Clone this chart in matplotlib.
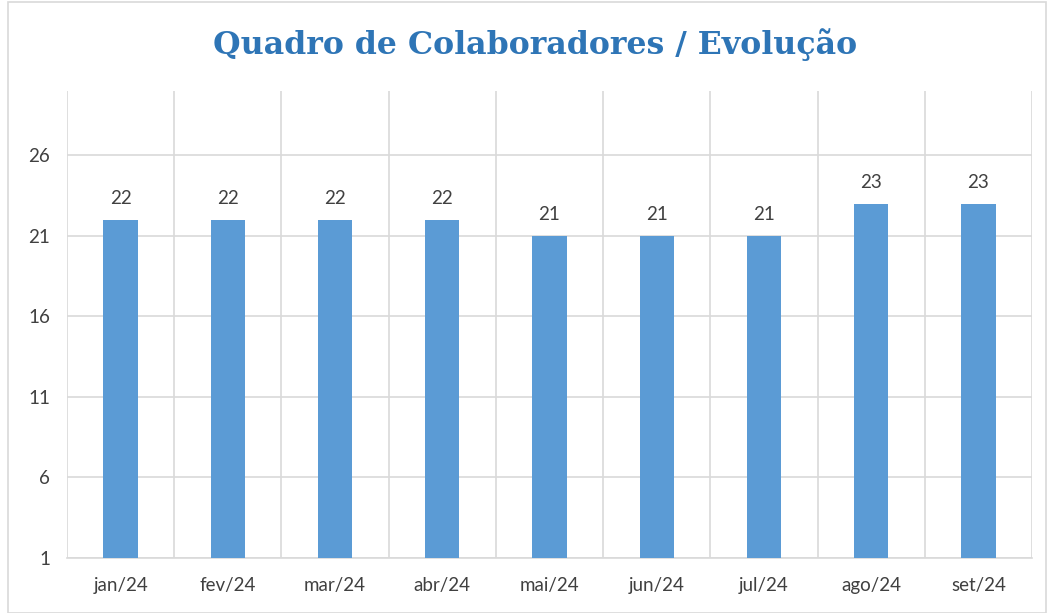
import matplotlib
matplotlib.use("Agg")
import matplotlib.pyplot as plt
from matplotlib.patches import Rectangle

# Data
months = ["jan/24", "fev/24", "mar/24", "abr/24", "mai/24", "jun/24", "jul/24", "ago/24", "set/24"]
colaboradores = [22, 22, 22, 22, 21, 21, 21, 23, 23]
yticks = [1, 6, 11, 16, 21, 26]

plt.rcParams['font.family'] = ['Lato', 'DejaVu Sans']

fig = plt.figure(figsize=(10.52, 6.13), dpi=100)
ax = fig.add_axes([67 / 1052, 1 - 558 / 613, (1032 - 67) / 1052, (558 - 91) / 613])

x = range(len(months))
bars = ax.bar(x, [v - 1 for v in colaboradores], bottom=1, width=0.32, color="#5B9BD5", zorder=3)

for xi, v in zip(x, colaboradores):
    ax.text(xi, v + 0.8, str(v), ha="center", va="bottom", fontsize=13.5, color="#404040")

ax.set_xlim(-0.5, len(months) - 0.5)
ax.set_ylim(1, 30)
ax.set_yticks(yticks)
ax.set_xticks(list(x))
ax.set_xticklabels(months)
ax.tick_params(axis="both", length=0, labelsize=13.5, colors="#404040")
ax.tick_params(axis="x", pad=14)
ax.tick_params(axis="y", pad=12)

# gridlines: horizontal at ticks, vertical between categories
ax.grid(axis="y", color="#D9D9D9", linewidth=1.2, zorder=0)
for b in range(len(months) + 1):
    ax.axvline(b - 0.5, color="#D9D9D9", linewidth=1.2, zorder=0)

for s in ["top", "right", "left"]:
    ax.spines[s].set_visible(False)
ax.spines["bottom"].set_color("#D9D9D9")
ax.spines["bottom"].set_linewidth(1.2)

fig.text(0.509, 0.928, "Quadro de Colaboradores / Evolução", ha="center", va="center",
         fontsize=22.8, fontweight="bold", color="#2E75B6", family=["DejaVu Serif"])

fig.patches.append(Rectangle((8 / 1052, 0.0), 1 - 14 / 1052, 1 - 2 / 613, transform=fig.transFigure,
                             fill=False, edgecolor="#D9D9D9", linewidth=1.2))

fig.savefig("out.png", dpi=100)
